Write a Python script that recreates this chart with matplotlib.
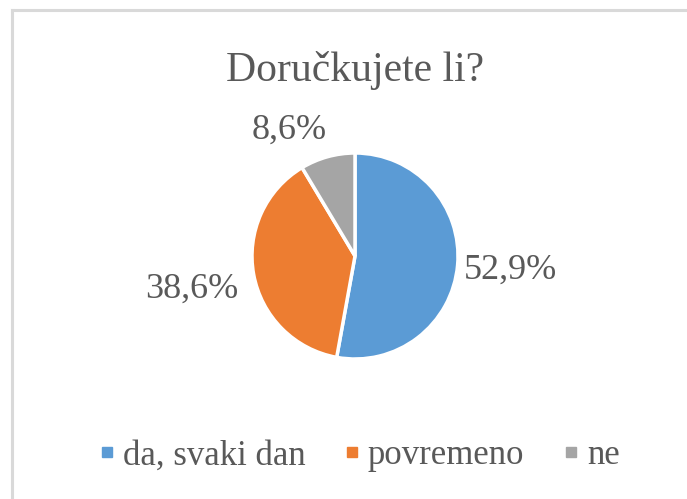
import matplotlib
matplotlib.use("Agg")
import matplotlib.pyplot as plt
from matplotlib.lines import Line2D
import numpy as np

title = "Doručkujete li?"
categories = ["da, svaki dan", "povremeno", "ne"]
values = [52.9, 38.6, 8.6]
value_labels = ["52,9%", "38,6%", "8,6%"]
colors = ["#5B9BD5", "#ED7D31", "#A5A5A5"]

plt.rcParams['font.family'] = ['Liberation Serif', 'DejaVu Serif']
text_color = "#595959"

W, H = 687, 499
fig = plt.figure(figsize=(W / 100, H / 100), dpi=100)
fig.patch.set_facecolor("white")

# frame lines (top and left)
fig.add_artist(Line2D([11.5 / W, 1.0], [1 - 9.5 / H, 1 - 9.5 / H], color="#D9D9D9", lw=2.2, transform=fig.transFigure))
fig.add_artist(Line2D([11.5 / W, 11.5 / W], [0.0, 1 - 9.5 / H], color="#D9D9D9", lw=2.2, transform=fig.transFigure))

cx, cy, r = 355, 256, 103
ax = fig.add_axes([(cx - 1.6 * r) / W, (H - cy - 1.6 * r) / H, 3.2 * r / W, 3.2 * r / H])

wedges, _ = ax.pie(values, colors=colors, startangle=90, counterclock=False,
                   radius=1.0, wedgeprops=dict(edgecolor="white", linewidth=2.5))
ax.set_xlim(-1.6, 1.6)
ax.set_ylim(-1.6, 1.6)
ax.set_aspect("equal")
ax.axis("off")

# label placement (distance, angle offset in degrees)
placement = [(1.52, 0.0), (1.62, 1.0), (1.38, 12.0)]
for w, lab, (dist, doff) in zip(wedges, value_labels, placement):
    ang = np.deg2rad((w.theta1 + w.theta2) / 2 + doff)
    ax.text(dist * np.cos(ang), dist * np.sin(ang), lab, ha="center", va="center",
            fontsize=26, color=text_color)

fig.text(355 / W, 1 - 71 / H, title, ha="center", va="center", fontsize=30, color=text_color)

handles = [Line2D([0], [0], marker="s", linestyle="none", markersize=7,
                  markerfacecolor=c, markeredgecolor=c) for c in colors]
fig.legend(handles, categories, loc="center", bbox_to_anchor=(360 / W, 1 - 456 / H),
           ncol=3, frameon=False, fontsize=25, handlelength=0.4, handletextpad=0.25,
           columnspacing=1.15, labelcolor=text_color)

fig.savefig("out.png", dpi=100)
